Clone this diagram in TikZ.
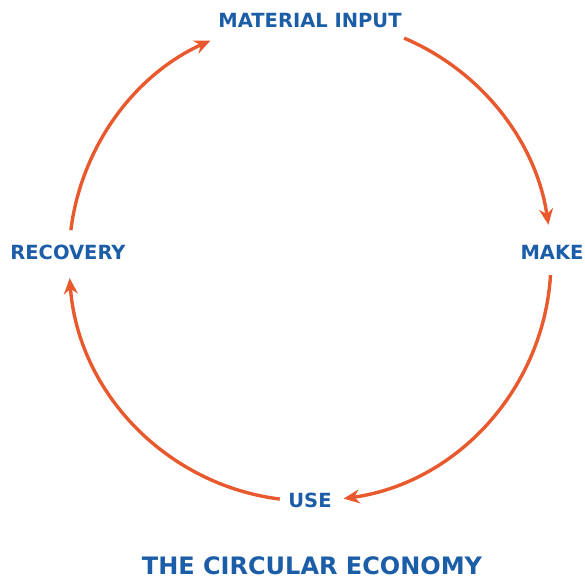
\documentclass[tikz,border=0pt]{standalone}
\usepackage{fontspec}
\setmainfont{DejaVu Sans}
\usepackage{tikz}
\usetikzlibrary{calc,arrows.meta}

\definecolor{cyclered}{HTML}{E85A2E}
\definecolor{cycleblue}{HTML}{1C5DA8}

\begin{document}
\begin{tikzpicture}[x=1pt,y=1pt]
      \tikzset{stage/.style={text=cycleblue,
          font=\fontsize{19.5}{21}\selectfont\bfseries,
          inner sep=0pt},
        flow/.style={draw=cyclered, line width=3.4pt,
          -{Stealth[length=16pt,width=14pt]}}
      }
      \useasboundingbox (0,0) rectangle (585,580);
      \coordinate (O) at (310,320);
      \node [stage] (input) at (310,559.5) {MATERIAL INPUT};
      \node [stage] (make) at (552,328) {MAKE};
      \node [stage] (use) at (310,80) {USE};
      \node [stage] (recovery) at (68,327.5) {RECOVERY};
      \node [stage, font=\fontsize{24}{26}\selectfont\bfseries] (title) at (312,14.5) {THE CIRCULAR ECONOMY};
      % start points of the four arcs
      \coordinate (input-out) at ($(O)+(67:241)$);
      \coordinate (make-out) at ($(O)+(-3.6:241)$);
      \coordinate (use-out) at ($(O)+(262.8:241)$);
      \coordinate (recovery-out) at ($(O)+(172.9:241)$);
      \draw [flow] (input-out) arc [start angle=67, end angle=8.4, radius=241];
      \draw [flow] (make-out) arc [start angle=-3.6, end angle=-82, radius=241];
      \draw [flow] (use-out) arc [start angle=262.8, end angle=184.3, radius=241];
      \draw [flow] (recovery-out) arc [start angle=172.9, end angle=114.4, radius=241];
    \end{tikzpicture}
\end{document}
